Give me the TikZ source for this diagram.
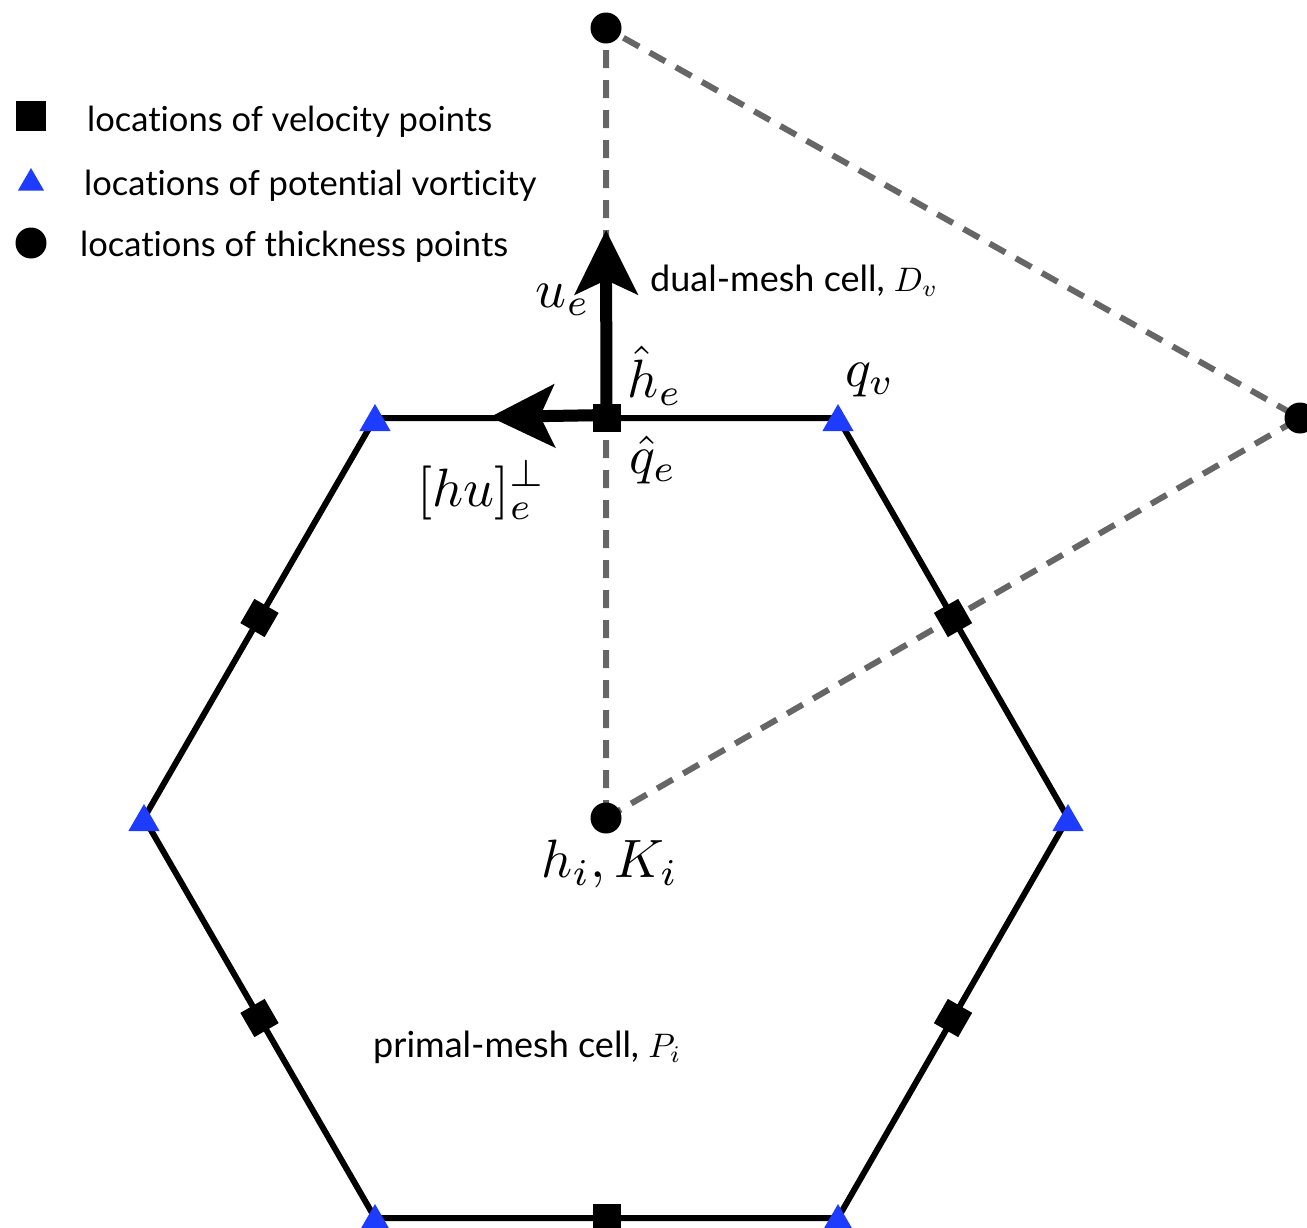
\documentclass[tikz,border=0pt]{standalone}
\usepackage{graphicx}
\usepackage{fontspec}
\setsansfont{Lato}[Ligatures=NoCommon]
\usetikzlibrary{arrows.meta,shapes.geometric}
\definecolor{pvblue}{RGB}{30,60,255}
\definecolor{dualgray}{RGB}{102,102,102}
\newcommand{\biglab}[1]{\scalebox{5.4}{\normalsize$#1$}}
\newcommand{\smalllab}[1]{\scalebox{3.4}{\normalsize$#1$}}
\tikzset{
  hexedge/.style={line width=6pt, black},
  dualedge/.style={line width=6pt, dualgray, dash pattern=on 18pt off 12pt},
  velpt/.style={rectangle, fill=black, minimum size=28pt, inner sep=0pt, sloped},
  pvpt/.style={regular polygon, regular polygon sides=3, fill=pvblue, minimum size=36pt, inner sep=0pt},
  thkpt/.style={circle, fill=black, minimum size=31pt, inner sep=0pt},
  bigarrow/.style={line width=12pt, -{Stealth[length=64pt, width=62pt, inset=14pt]}},
  legtext/.style={font=\sffamily\fontsize{34.5}{40}\selectfont, anchor=base west, inner sep=0pt},
  celltext/.style={font=\sffamily\fontsize{36}{40}\selectfont, anchor=base west, inner sep=0pt},
  mathlab/.style={inner sep=0pt}
}
\begin{document}
\begin{tikzpicture}[x=1pt,y=-1pt]
\useasboundingbox (0,0) rectangle (1307,1227);
% hexagon vertices
\coordinate (V1) at (375,418);
\coordinate (V2) at (838,418);
\coordinate (V3) at (1068,818);
\coordinate (V4) at (838,1218);
\coordinate (V5) at (375,1218);
\coordinate (V6) at (144,818);
% dual triangle
\coordinate (Cc) at (606,818);
\coordinate (Tc) at (606,28);
\coordinate (Rc) at (1300,418);
\draw[dualedge] (Cc) -- (Tc) -- (Rc) -- cycle;
% hexagon with velocity points
\draw[hexedge] (V1) -- node[velpt] (E1) {} (V2)
  -- node[velpt] (E2) {} (V3)
  -- node[velpt] (E3) {} (V4)
  -- node[velpt] (E4) {} (V5)
  -- node[velpt] (E5) {} (V6)
  -- node[velpt] (E6) {} (V1);
% pv points
\foreach \v in {V1,V2,V3,V4,V5,V6} \node[pvpt, yshift=-4pt] (P\v) at (\v) {};
% thickness points
\node[thkpt] (C) at (Cc) {};
\node[thkpt] (T) at (Tc) {};
\node[thkpt] (R) at (Rc) {};
% arrows
\coordinate (ueTip) at (606,230);
\coordinate (huTip) at (490,417);
\draw[bigarrow] (E1.center) -- (ueTip);
\draw[bigarrow] ([yshift=3pt]E1.center) -- (huTip);
\node[velpt, sloped=false] (E1b) at (E1) {};
% labels
\node[mathlab] (lue) at (563,300) {\biglab{u_e}};
\node[mathlab] (lhe) at (655,376) {\biglab{\hat h_e}};
\node[mathlab] (lqv) at (870,380) {\biglab{q_v}};
\node[mathlab] (lqe) at (653,460) {\biglab{\hat q_e}};
\node[mathlab] (lhu) at (482,490) {\biglab{[hu]_e^{\perp}}};
\node[mathlab] (lhk) at (610,864) {\biglab{h_i,K_i}};
\node[celltext] (ldual) at (650,291) {dual-mesh cell, \smalllab{D_v}};
\node[celltext] (lprim) at (373,1057) {primal-mesh cell, \smalllab{P_i}};
% legend
\node[rectangle, fill=black, minimum size=30pt, inner sep=0pt] (Lsq) at (31,116) {};
\node[regular polygon, regular polygon sides=3, fill=pvblue, minimum size=30pt, inner sep=0pt] (Ltri) at (31,183) {};
\node[thkpt] (Lcir) at (31,243) {};
\node[legtext] (t1) at (87,131) {locations of velocity points};
\node[legtext] (t2) at (84,195) {locations of potential vorticity};
\node[legtext] (t3) at (80,256) {locations of thickness points};
\end{tikzpicture}
\end{document}
